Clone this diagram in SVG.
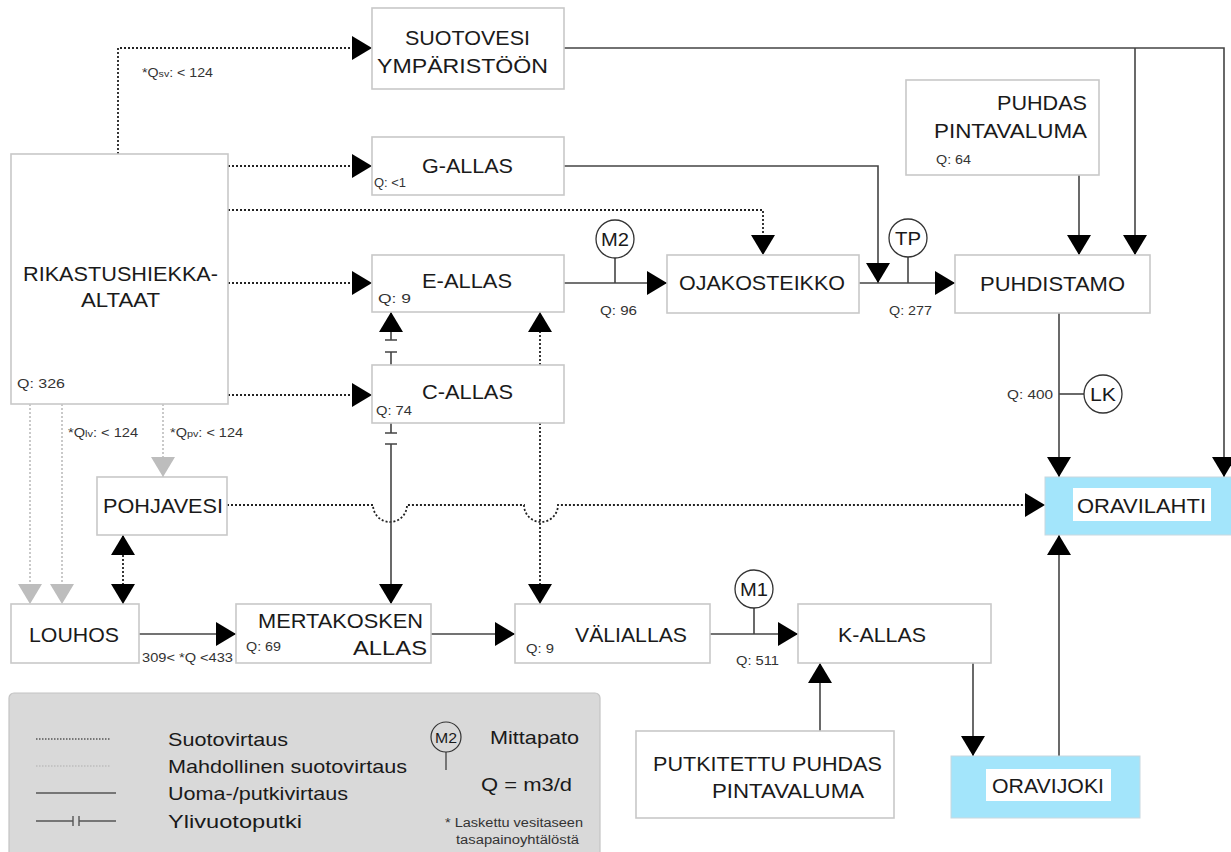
<svg xmlns="http://www.w3.org/2000/svg" width="1231" height="852" viewBox="0 0 1231 852">
<defs>
<style>
.box{fill:#fff;stroke:#c8c8c8;stroke-width:1.6}
.blue{fill:#a3e5fb;stroke:#c8d8e0;stroke-width:1}
.lbl{font-family:"Liberation Sans",Arial,sans-serif;font-size:21px;fill:#1a1a1a}
.sm{font-family:"Liberation Sans",Arial,sans-serif;font-size:12px;fill:#333}
.mt{font-family:"Liberation Sans",Arial,sans-serif;font-size:18px;fill:#1a1a1a}
.solid{fill:none;stroke:#444;stroke-width:1.6}
.dot{fill:none;stroke:#222;stroke-width:1.8;stroke-dasharray:2 2}
.ldot{fill:none;stroke:#c4c4c4;stroke-width:1.8;stroke-dasharray:2 2}
.meter{fill:#fff;stroke:#333;stroke-width:1.3}
.leg{font-family:"Liberation Sans",Arial,sans-serif;font-size:19px;fill:#1a1a1a}
</style>
<marker id="ah" markerUnits="userSpaceOnUse" markerWidth="20" markerHeight="24" refX="20" refY="12" orient="auto-start-reverse"><path d="M0,0 L20,12 L0,24 z" fill="#000"/></marker>
<marker id="ahg" markerUnits="userSpaceOnUse" markerWidth="20" markerHeight="24" refX="20" refY="12" orient="auto"><path d="M0,0 L20,12 L0,24 z" fill="#bdbdbd"/></marker>
</defs>
<rect width="1231" height="852" fill="#fff"/>

<g id="connectors">
<path class="dot" d="M118,154 V48 H372" marker-end="url(#ah)"/>
<path class="dot" d="M228,166 H372" marker-end="url(#ah)"/>
<path class="dot" d="M228,210 H763 V255" marker-end="url(#ah)"/>
<path class="dot" d="M228,283 H372" marker-end="url(#ah)"/>
<path class="dot" d="M228,395 H372" marker-end="url(#ah)"/>
<path class="ldot" d="M30,404 V604" marker-end="url(#ahg)"/>
<path class="ldot" d="M62,404 V604" marker-end="url(#ahg)"/>
<path class="ldot" d="M163,404 V477" marker-end="url(#ahg)"/>
<path class="dot" d="M123,535 V604" marker-start="url(#ah)" marker-end="url(#ah)"/>
<path class="dot" d="M227,505 H373 A17,17 0 0 0 407,505 H524 A17,17 0 0 0 558,505 H1045" marker-end="url(#ah)"/>
<path class="solid" d="M564,166 H878 V283" marker-end="url(#ah)"/>
<path class="solid" d="M564,283 H667" marker-end="url(#ah)"/>
<path class="solid" d="M615,258 V283"/>
<path class="solid" d="M859,283 H955" marker-end="url(#ah)"/>
<path class="solid" d="M908,257 V283"/>
<path class="solid" d="M564,48 H1224 V477" marker-end="url(#ah)"/>
<path class="solid" d="M1135,48 V255" marker-end="url(#ah)"/>
<path class="solid" d="M1079,175 V255" marker-end="url(#ah)"/>
<path class="solid" d="M1059,313 V477" marker-end="url(#ah)"/>
<path class="solid" d="M1059,394 H1084"/>
<path class="solid" d="M1059,756 V535" marker-end="url(#ah)"/>
<path class="solid" d="M391,340 V312" marker-end="url(#ah)"/>
<path class="solid" d="M385,340 H397 M385,352 H397 M391,352 V365"/>
<path class="solid" d="M391,423 V433 M385,433 H397 M385,444 H397"/>
<path class="solid" d="M391,444 V604" marker-end="url(#ah)"/>
<path class="dot" d="M540,365 V312" marker-end="url(#ah)"/>
<path class="dot" d="M540,423 V604" marker-end="url(#ah)"/>
<path class="solid" d="M139,634 H236" marker-end="url(#ah)"/>
<path class="solid" d="M431,634 H515" marker-end="url(#ah)"/>
<path class="solid" d="M710,634 H798" marker-end="url(#ah)"/>
<path class="solid" d="M754,608 V634"/>
<path class="solid" d="M820,731 V663" marker-end="url(#ah)"/>
<path class="solid" d="M973,663 V756" marker-end="url(#ah)"/>
</g>

<g id="labels-flow">
<text class="sm" x="142" y="77" textLength="71" lengthAdjust="spacingAndGlyphs">*Q<tspan font-size="9">sv</tspan>: &lt; 124</text>
<text class="sm" x="68" y="437" textLength="70" lengthAdjust="spacingAndGlyphs">*Q<tspan font-size="9">lv</tspan>: &lt; 124</text>
<text class="sm" x="170" y="437" textLength="73" lengthAdjust="spacingAndGlyphs">*Q<tspan font-size="9">pv</tspan>: &lt; 124</text>
<text class="sm" x="600" y="315" textLength="37" lengthAdjust="spacingAndGlyphs">Q: 96</text>
<text class="sm" x="889" y="315" textLength="43" lengthAdjust="spacingAndGlyphs">Q: 277</text>
<text class="sm" x="1007" y="399" textLength="46" lengthAdjust="spacingAndGlyphs">Q: 400</text>
<text class="sm" x="142" y="662" textLength="91" lengthAdjust="spacingAndGlyphs">309&lt; *Q &lt;433</text>
<text class="sm" x="736" y="665" textLength="43" lengthAdjust="spacingAndGlyphs">Q: 511</text>
</g>

<g id="meter-M2">
<circle class="meter" cx="615" cy="239" r="19"/>
<text class="mt" x="615" y="246" text-anchor="middle" textLength="28" lengthAdjust="spacingAndGlyphs">M2</text>
</g>
<g id="meter-TP">
<circle class="meter" cx="908" cy="238" r="19"/>
<text class="mt" x="908" y="245" text-anchor="middle" textLength="26" lengthAdjust="spacingAndGlyphs">TP</text>
</g>
<g id="meter-LK">
<circle class="meter" cx="1103" cy="394" r="19"/>
<text class="mt" x="1103" y="401" text-anchor="middle" textLength="26" lengthAdjust="spacingAndGlyphs">LK</text>
</g>
<g id="meter-M1">
<circle class="meter" cx="754" cy="589" r="19"/>
<text class="mt" x="754" y="596" text-anchor="middle" textLength="28" lengthAdjust="spacingAndGlyphs">M1</text>
</g>

<g id="node-suotovesi">
<rect class="box" x="372" y="8" width="192" height="81"/>
<text class="lbl" x="405" y="45" textLength="125" lengthAdjust="spacingAndGlyphs">SUOTOVESI</text>
<text class="lbl" x="377" y="73" textLength="171" lengthAdjust="spacingAndGlyphs">YMPÄRISTÖÖN</text>
</g>
<g id="node-rikastus">
<rect class="box" x="11" y="154" width="217" height="250"/>
<text class="lbl" x="23" y="281" textLength="195" lengthAdjust="spacingAndGlyphs">RIKASTUSHIEKKA-</text>
<text class="lbl" x="81" y="307" textLength="79" lengthAdjust="spacingAndGlyphs">ALTAAT</text>
<text class="sm" x="17" y="388" textLength="48" lengthAdjust="spacingAndGlyphs">Q:  326</text>
</g>
<g id="node-g-allas">
<rect class="box" x="372" y="137" width="192" height="58"/>
<text class="lbl" x="422" y="173" textLength="91" lengthAdjust="spacingAndGlyphs">G-ALLAS</text>
<text class="sm" x="374" y="187" textLength="32" lengthAdjust="spacingAndGlyphs">Q: &lt;1</text>
</g>
<g id="node-e-allas">
<rect class="box" x="372" y="255" width="192" height="57"/>
<text class="lbl" x="422" y="288" textLength="90" lengthAdjust="spacingAndGlyphs">E-ALLAS</text>
<text class="sm" x="378" y="303" textLength="33" lengthAdjust="spacingAndGlyphs">Q:  9</text>
</g>
<g id="node-c-allas">
<rect class="box" x="372" y="365" width="192" height="58"/>
<text class="lbl" x="422" y="399" textLength="91" lengthAdjust="spacingAndGlyphs">C-ALLAS</text>
<text class="sm" x="376" y="415" textLength="36" lengthAdjust="spacingAndGlyphs">Q: 74</text>
</g>
<g id="node-ojakosteikko">
<rect class="box" x="667" y="255" width="192" height="58"/>
<text class="lbl" x="679" y="290" textLength="166" lengthAdjust="spacingAndGlyphs">OJAKOSTEIKKO</text>
</g>
<g id="node-puhdas">
<rect class="box" x="906" y="80" width="193" height="95"/>
<text class="lbl" x="1087" y="110" text-anchor="end" textLength="90" lengthAdjust="spacingAndGlyphs">PUHDAS</text>
<text class="lbl" x="1087" y="138" text-anchor="end" textLength="153" lengthAdjust="spacingAndGlyphs">PINTAVALUMA</text>
<text class="sm" x="936" y="164" textLength="35" lengthAdjust="spacingAndGlyphs">Q: 64</text>
</g>
<g id="node-puhdistamo">
<rect class="box" x="955" y="255" width="195" height="58"/>
<text class="lbl" x="980" y="291" textLength="145" lengthAdjust="spacingAndGlyphs">PUHDISTAMO</text>
</g>
<g id="node-pohjavesi">
<rect class="box" x="97" y="477" width="130" height="58"/>
<text class="lbl" x="103" y="513" textLength="120" lengthAdjust="spacingAndGlyphs">POHJAVESI</text>
</g>
<g id="node-oravilahti">
<rect class="blue" x="1045" y="477" width="190" height="58"/>
<rect x="1073" y="488" width="138" height="33" fill="#fff"/>
<text class="lbl" x="1077" y="513" textLength="129" lengthAdjust="spacingAndGlyphs">ORAVILAHTI</text>
</g>
<g id="node-louhos">
<rect class="box" x="11" y="604" width="128" height="59"/>
<text class="lbl" x="29" y="642" textLength="90" lengthAdjust="spacingAndGlyphs">LOUHOS</text>
</g>
<g id="node-mertakosken">
<rect class="box" x="236" y="604" width="195" height="59"/>
<text class="lbl" x="258" y="628" textLength="165" lengthAdjust="spacingAndGlyphs">MERTAKOSKEN</text>
<text class="lbl" x="353" y="655" textLength="74" lengthAdjust="spacingAndGlyphs">ALLAS</text>
<text class="sm" x="246" y="651" textLength="35" lengthAdjust="spacingAndGlyphs">Q: 69</text>
</g>
<g id="node-valiallas">
<rect class="box" x="515" y="604" width="195" height="59"/>
<text class="lbl" x="575" y="642" textLength="112" lengthAdjust="spacingAndGlyphs">VÄLIALLAS</text>
<text class="sm" x="526" y="653" textLength="28" lengthAdjust="spacingAndGlyphs">Q: 9</text>
</g>
<g id="node-k-allas">
<rect class="box" x="798" y="604" width="193" height="59"/>
<text class="lbl" x="838" y="642" textLength="88" lengthAdjust="spacingAndGlyphs">K-ALLAS</text>
</g>
<g id="node-putkitettu">
<rect class="box" x="636" y="731" width="258" height="87"/>
<text class="lbl" x="653" y="771" textLength="229" lengthAdjust="spacingAndGlyphs">PUTKITETTU PUHDAS</text>
<text class="lbl" x="712" y="798" textLength="152" lengthAdjust="spacingAndGlyphs">PINTAVALUMA</text>
</g>
<g id="node-oravijoki">
<rect class="blue" x="951" y="756" width="189" height="62"/>
<rect x="986" y="769" width="125" height="32" fill="#fff"/>
<text class="lbl" x="992" y="793" textLength="112" lengthAdjust="spacingAndGlyphs">ORAVIJOKI</text>
</g>

<g id="legend">
<rect x="9" y="693" width="591" height="170" rx="5" fill="#d9d9d9" stroke="#c4c4c4" stroke-width="1.2"/>
<line x1="36" y1="739" x2="111" y2="739" stroke="#555" stroke-width="1.4" stroke-dasharray="1.5 1.5"/>
<line x1="36" y1="766" x2="111" y2="766" stroke="#bdbdbd" stroke-width="1.4" stroke-dasharray="1.5 1.5"/>
<line x1="36" y1="793" x2="116" y2="793" stroke="#555" stroke-width="1.6"/>
<path d="M36,821 H73 M73,816 V826 M79,816 V826 M79,821 H116" fill="none" stroke="#555" stroke-width="1.4"/>
<text class="leg" x="168" y="746" textLength="120" lengthAdjust="spacingAndGlyphs">Suotovirtaus</text>
<text class="leg" x="168" y="773" textLength="239" lengthAdjust="spacingAndGlyphs">Mahdollinen suotovirtaus</text>
<text class="leg" x="168" y="800" textLength="180" lengthAdjust="spacingAndGlyphs">Uoma-/putkivirtaus</text>
<text class="leg" x="168" y="828" textLength="134" lengthAdjust="spacingAndGlyphs">Ylivuotoputki</text>
<circle cx="446" cy="737" r="15" fill="none" stroke="#333" stroke-width="1.2"/>
<text x="446" y="743" text-anchor="middle" font-family="Liberation Sans, Arial, sans-serif" font-size="15" fill="#1a1a1a" textLength="22" lengthAdjust="spacingAndGlyphs">M2</text>
<line x1="446" y1="752" x2="446" y2="770" stroke="#333" stroke-width="1.2"/>
<text class="leg" x="490" y="744" textLength="89" lengthAdjust="spacingAndGlyphs">Mittapato</text>
<text class="leg" x="481" y="791" textLength="91" lengthAdjust="spacingAndGlyphs">Q = m3/d</text>
<text class="sm" x="445" y="827" font-size="10" textLength="138" lengthAdjust="spacingAndGlyphs">* Laskettu vesitaseen</text>
<text class="sm" x="456" y="844" font-size="10" textLength="123" lengthAdjust="spacingAndGlyphs">tasapainoyhtälöstä</text>
</g>
</svg>
